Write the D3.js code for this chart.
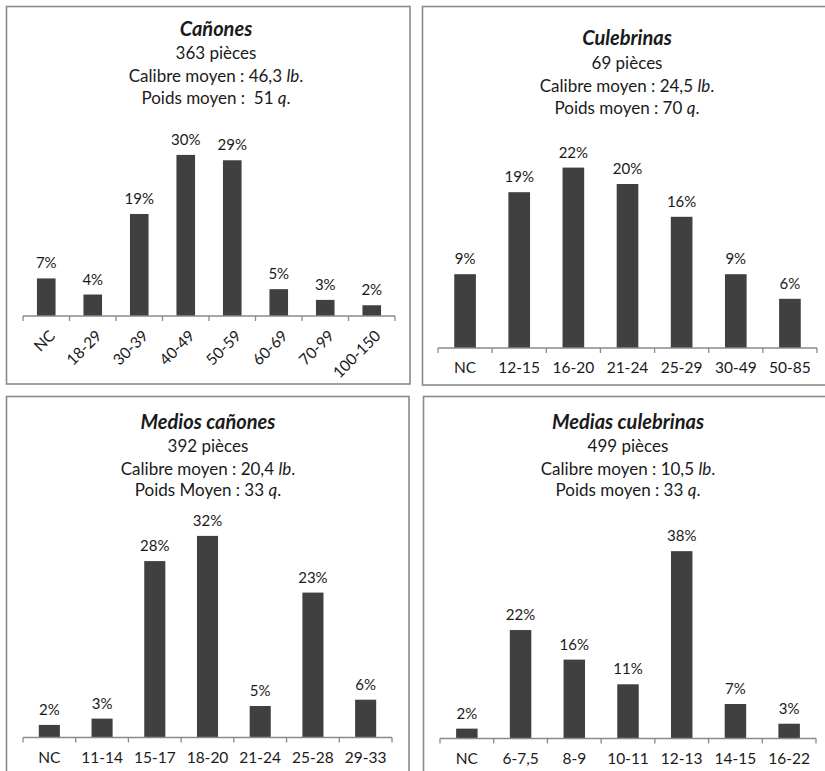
<!DOCTYPE html>
<html>
<head>
<meta charset="utf-8">
<script src="https://cdn.jsdelivr.net/npm/d3@7"></script>
<style>
  html, body { margin: 0; padding: 0; background: #fff; }
  svg { display: block; }
  text { font-family: Lato, "Open Sans", sans-serif; fill: #1a1a1a; }
</style>
</head>
<body>
<svg id="chart" width="825" height="771"></svg>
<script>
// Artillery pieces by calibre class (share of pieces, %)
const canonesCats = ["NC", "18-29", "30-39", "40-49", "50-59", "60-69", "70-99", "100-150"];
const canonesPct  = [7, 4, 19, 30, 29, 5, 3, 2];

const culebrinasCats = ["NC", "12-15", "16-20", "21-24", "25-29", "30-49", "50-85"];
const culebrinasPct  = [9, 19, 22, 20, 16, 9, 6];

const mediosCats = ["NC", "11-14", "15-17", "18-20", "21-24", "25-28", "29-33"];
const mediosPct  = [2, 3, 28, 32, 5, 23, 6];

const mediasCats = ["NC", "6-7,5", "8-9", "10-11", "12-13", "14-15", "16-22"];
const mediasPct  = [2, 22, 16, 11, 38, 7, 3];

// Header lines: title, number of pieces, mean calibre, mean weight
const titles   = ["Cañones", "Culebrinas", "Medios cañones", "Medias culebrinas"];
const pieces   = ["363 pièces", "69 pièces", "392 pièces", "499 pièces"];
const calibres = ["46,3", "24,5", "20,4", "10,5"];
const weightLabels = ["Poids moyen :  ", "Poids moyen : ", "Poids Moyen : ", "Poids moyen : "];
const weights  = ["51", "70", "33", "33"];

const panels = [
  { cats: canonesCats, vals: canonesPct, box: [6.5, 6.5, 410, 384], cx: 216, ty: [29, 53, 76, 98],
    px: [23, 395], axisY: 316, yMax: 35, ppp: 5.37, rotate: true },
  { cats: culebrinasCats, vals: culebrinasPct, box: [422.5, 6.5, 840, 385], cx: 627, ty: [38, 63, 86, 108],
    px: [438, 817], axisY: 348, yMax: 25, ppp: 8.2, rotate: false },
  { cats: mediosCats, vals: mediosPct, box: [6.5, 396.5, 409, 790], cx: 208, ty: [422, 446, 469, 490],
    px: [23, 392], axisY: 737.5, yMax: 35, ppp: 6.3, rotate: false },
  { cats: mediasCats, vals: mediasPct, box: [423.5, 396.5, 840, 790], cx: 628, ty: [422, 446, 469, 490],
    px: [440, 816], axisY: 738.5, yMax: 40, ppp: 4.93, rotate: false }
];

const svg = d3.select("#chart");

panels.forEach((p, i) => {
  const g = svg.append("g");

  // frame
  g.append("rect")
    .attr("x", p.box[0]).attr("y", p.box[1])
    .attr("width", p.box[2] - p.box[0]).attr("height", p.box[3] - p.box[1])
    .attr("fill", "none").attr("stroke", "#8a8a8a").attr("stroke-width", 1.6);

  // header
  g.append("text").attr("x", p.cx).attr("y", p.ty[0]).attr("dy", "0.35em")
    .attr("text-anchor", "middle").attr("font-size", 20)
    .attr("font-weight", "bold").attr("font-style", "italic")
    .text(titles[i]);
  g.append("text").attr("x", p.cx).attr("y", p.ty[1]).attr("dy", "0.35em")
    .attr("text-anchor", "middle").attr("font-size", 17)
    .text(pieces[i]);
  const cal = g.append("text").attr("x", p.cx).attr("y", p.ty[2]).attr("dy", "0.35em")
    .attr("text-anchor", "middle").attr("font-size", 17)
    .attr("xml:space", "preserve");
  cal.append("tspan").text("Calibre moyen : " + calibres[i] + " ");
  cal.append("tspan").attr("font-style", "italic").text("lb");
  cal.append("tspan").text(".");
  const wt = g.append("text").attr("x", p.cx).attr("y", p.ty[3]).attr("dy", "0.35em")
    .attr("text-anchor", "middle").attr("font-size", 17)
    .attr("xml:space", "preserve");
  wt.append("tspan").text(weightLabels[i] + weights[i] + " ");
  wt.append("tspan").attr("font-style", "italic").text("q");
  wt.append("tspan").text(".");

  // scales
  const x = d3.scaleBand().domain(p.cats).range(p.px).paddingInner(0.6).paddingOuter(0.3);
  const y = d3.scaleLinear().domain([0, p.yMax]).range([p.axisY, p.axisY - p.yMax * p.ppp]);

  const data = p.cats.map((c, k) => ({ cat: c, v: p.vals[k] }));

  // bars
  g.selectAll("rect.bar").data(data).join("rect")
    .attr("class", "bar")
    .attr("x", d => x(d.cat)).attr("width", x.bandwidth())
    .attr("y", d => y(d.v)).attr("height", d => y(0) - y(d.v))
    .attr("fill", "#404040");

  // value labels
  g.selectAll("text.val").data(data).join("text")
    .attr("class", "val")
    .attr("x", d => x(d.cat) + x.bandwidth() / 2)
    .attr("y", d => y(d.v) - 10)
    .attr("text-anchor", "middle").attr("font-size", 15)
    .text(d => d.v + "%");

  // category axis
  const step = x.step();
  const axis = d3.axisBottom(x).tickSize(0).tickSizeOuter(0).tickPadding(0);
  const ax = g.append("g").attr("transform", `translate(0,${p.axisY})`).call(axis);
  ax.select(".domain").attr("stroke", "#8a8a8a").attr("stroke-width", 1.3)
    .attr("d", `M${p.px[0]},0H${p.px[1]}`);
  ax.selectAll(".tick text").remove();
  // boundary ticks between categories
  const bounds = d3.range(p.cats.length + 1).map(k => p.px[0] + k * step);
  g.selectAll("line.tk").data(bounds).join("line")
    .attr("class", "tk")
    .attr("x1", d => d).attr("x2", d => d)
    .attr("y1", p.axisY).attr("y2", p.axisY + 5)
    .attr("stroke", "#8a8a8a").attr("stroke-width", 1.3);

  const labels = g.selectAll("text.cat").data(p.cats).join("text")
    .attr("class", "cat").attr("font-size", 15.5);
  if (p.rotate) {
    labels.attr("text-anchor", "end")
      .attr("transform", d => `translate(${x(d) + x.bandwidth() / 2 + 6},${p.axisY + 17}) rotate(-45)`)
      .attr("dy", "0.35em")
      .text(d => d);
  } else {
    labels.attr("text-anchor", "middle")
      .attr("x", d => x(d) + x.bandwidth() / 2)
      .attr("y", p.axisY + 20).attr("dy", "0.35em")
      .text(d => d);
  }
});
</script>
</body>
</html>
